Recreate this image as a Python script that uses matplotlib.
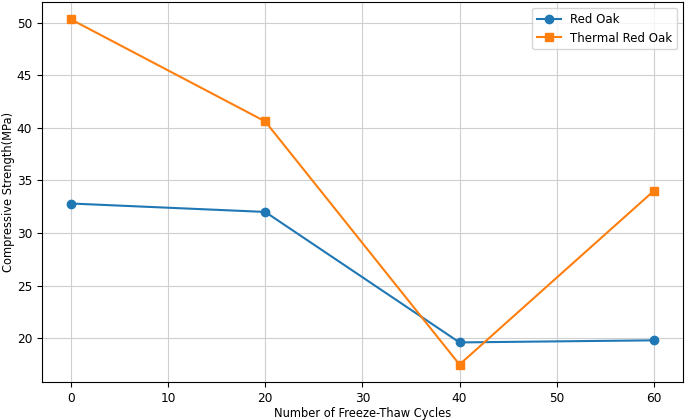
import matplotlib.pyplot as plt

cycles = [0, 20, 40, 60]
red_oak = [32.8, 32.0, 19.6, 19.8]
thermal_red_oak = [50.3, 40.6, 17.5, 34.0]

fig, ax = plt.subplots(figsize=(6.85, 4.2), dpi=100)
ax.plot(cycles, red_oak, marker='o', label='Red Oak')
ax.plot(cycles, thermal_red_oak, marker='s', label='Thermal Red Oak')
ax.set_xlabel('Number of Freeze-Thaw Cycles', fontsize=8.3, labelpad=2)
ax.set_ylabel('Compressive Strength(MPa)', fontsize=8.3, labelpad=1)
ax.tick_params(labelsize=8.7)
ax.grid(True, color='#cfcfcf')
ax.legend(loc='upper right', fontsize=8.5)
fig.subplots_adjust(left=0.061, right=0.997, top=0.995, bottom=0.091)
fig.savefig('out.png')
